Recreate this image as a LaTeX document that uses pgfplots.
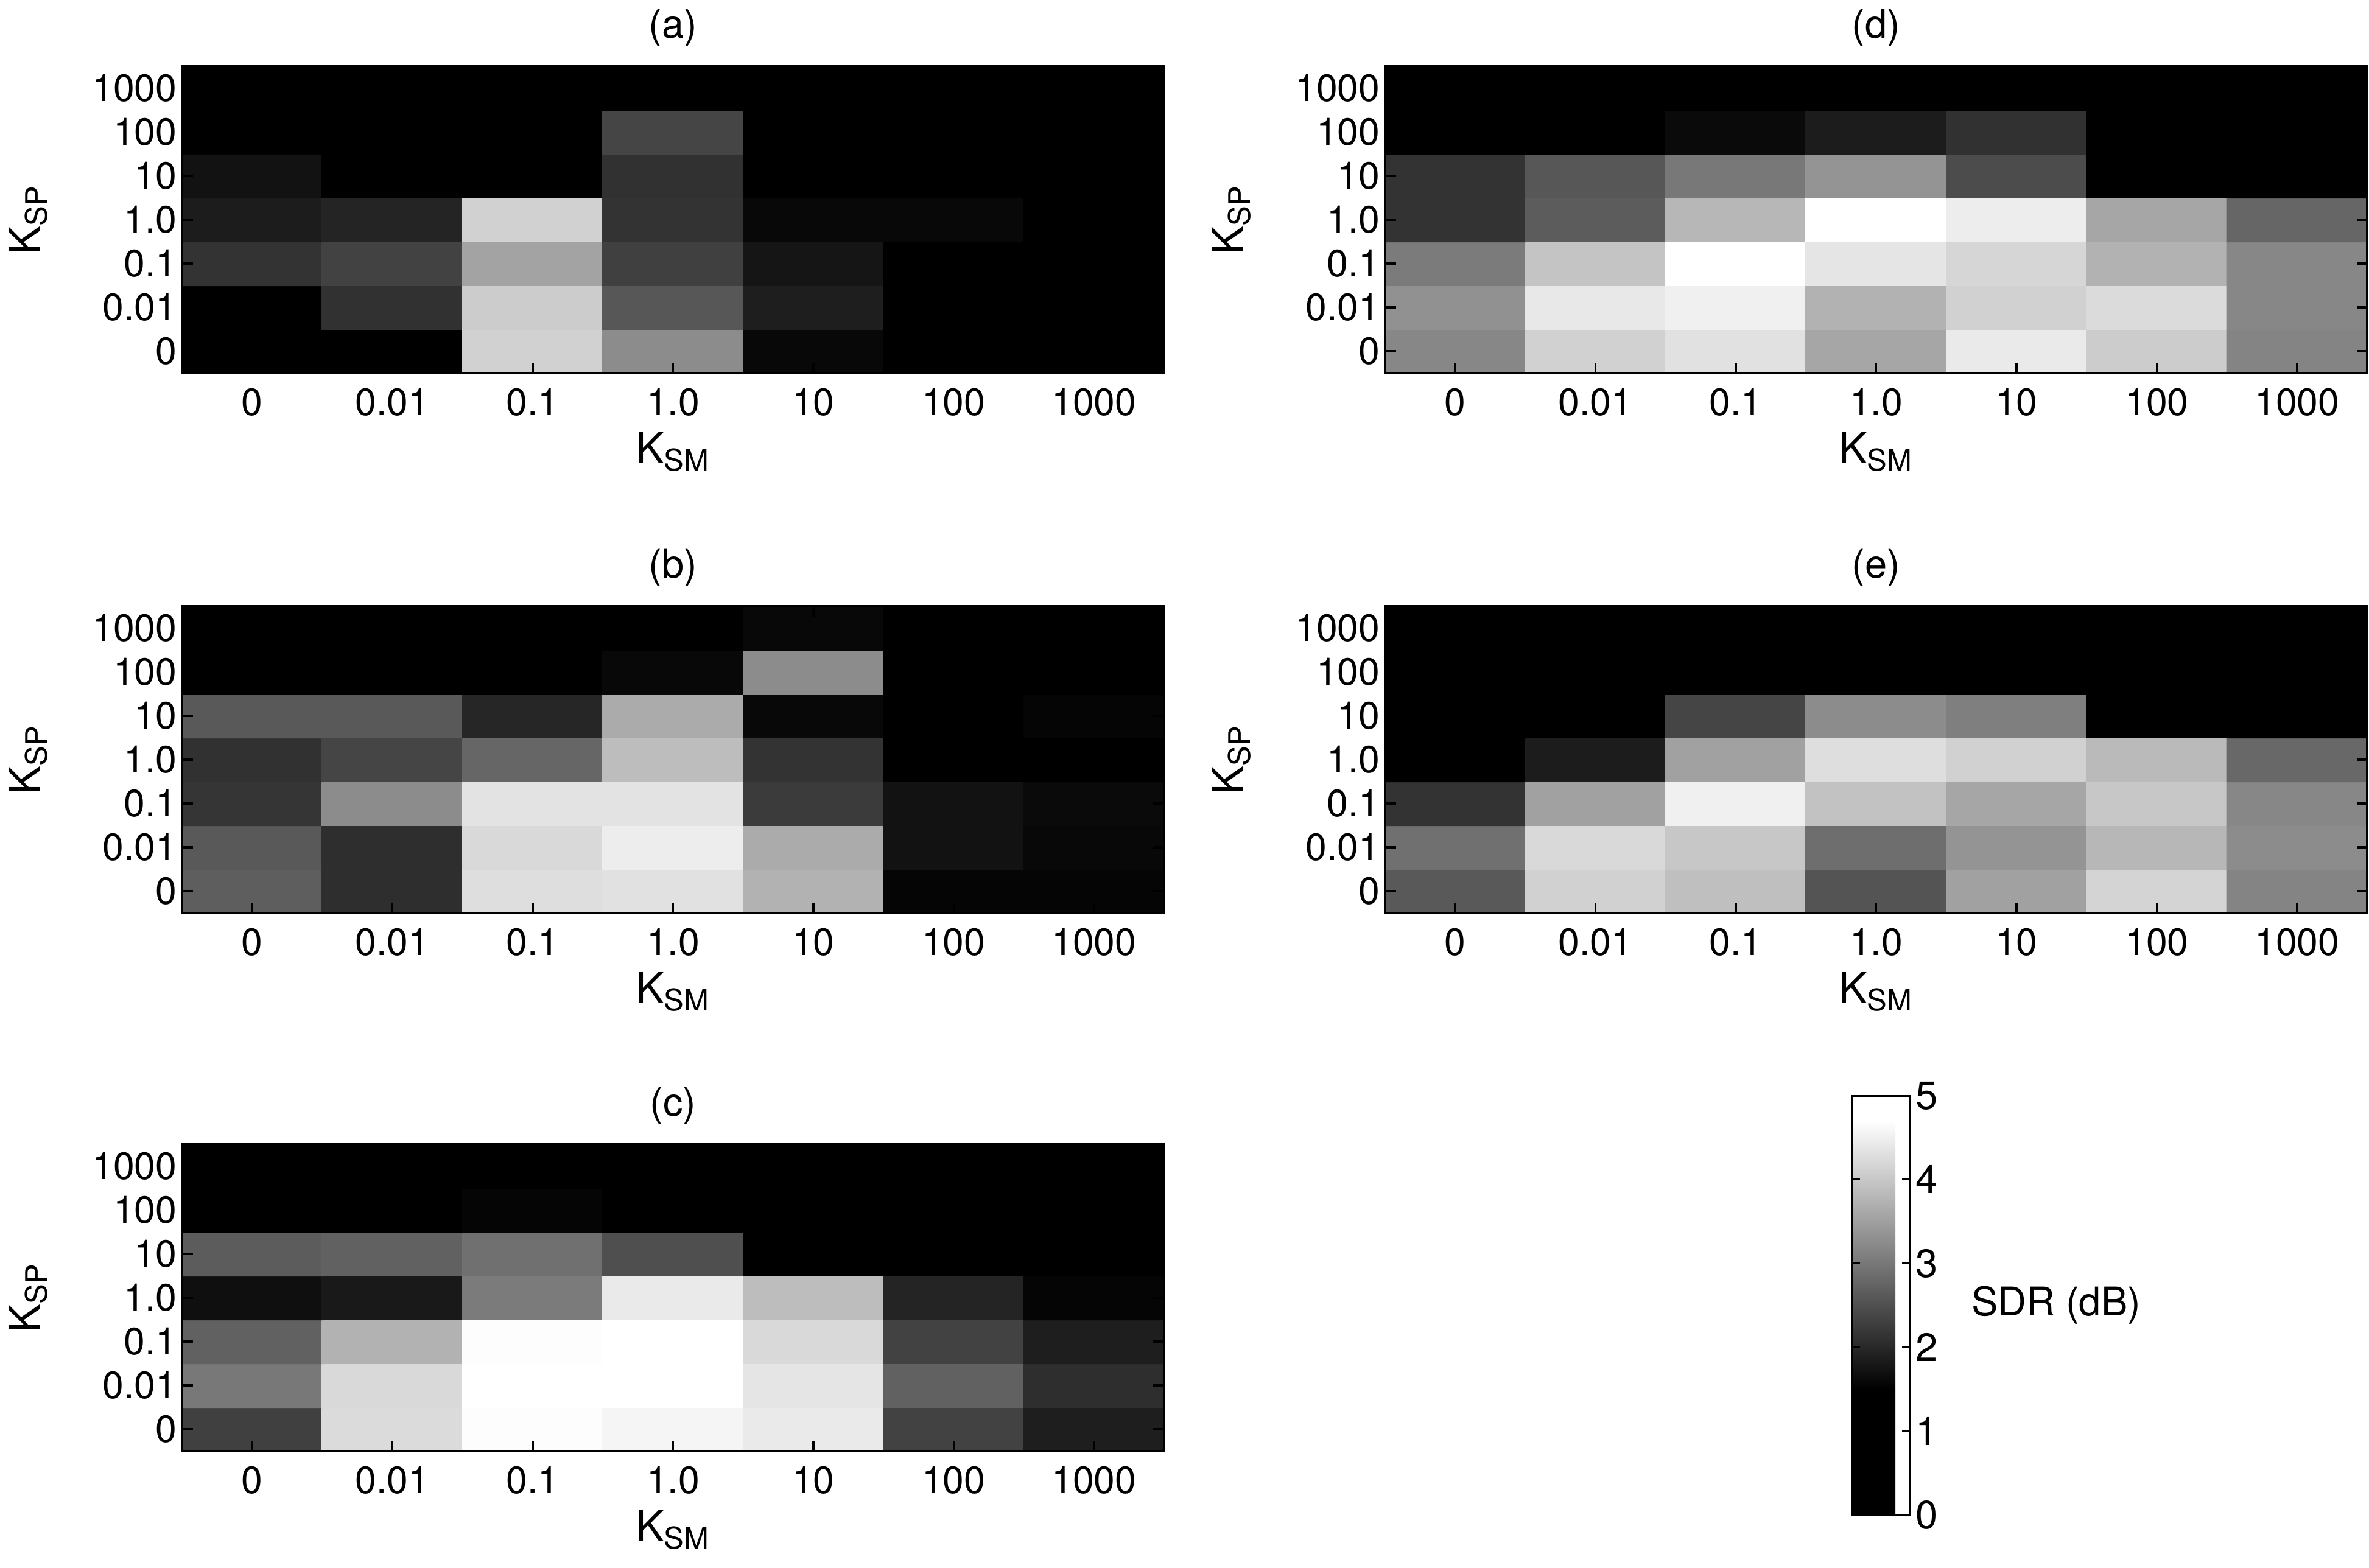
\documentclass[border=0pt]{standalone}
\usepackage{fontspec}
\setmainfont{TeX Gyre Heros}
\usepackage{pgfplots}
\pgfplotsset{compat=1.18}
\begin{document}
\begin{tikzpicture}
\useasboundingbox (0,0) rectangle (778.2pt,-515pt);
\pgfplotsset{
  colormap={sdr}{gray(0cm)=(0); gray(1.5cm)=(0); gray(4.7cm)=(1); gray(5cm)=(1)},
  /pgf/number format/assume math mode=true,
  hm/.style={
    scale only axis, width=322.6pt, height=100.8pt,
    anchor=north west, axis on top,
    xmin=-0.5, xmax=6.5, ymin=-0.5, ymax=6.5,
    enlargelimits=false,
    xtick={0,...,6}, ytick={0,...,6},
    xticklabels={0,0.01,0.1,1.0,10,100,1000},
    yticklabels={0,0.01,0.1,1.0,10,100,1000},
    tick align=inside, major tick length=3.5pt,
    tick style={line width=0.7pt, black},
    axis line style={line width=0.7pt},
    point meta min=0, point meta max=5,
    colormap name=sdr,
    tick label style={font=\fontsize{12.5}{14}\selectfont},
    xticklabel style={yshift=-1.4pt},
    yticklabel style={xshift=1.8pt},
    xlabel={K\textsubscript{SM}},
    ylabel={K\textsubscript{SP}},
    every axis x label/.style={at={(axis description cs:0.5,-0.159)}, anchor=north, font=\fontsize{14}{16}\selectfont},
    every axis y label/.style={at={(axis description cs:-0.126,0.5)}, rotate=90, anchor=south, font=\fontsize{14}{16}\selectfont},
    every axis title/.style={at={(0.5,1)}, anchor=south, yshift=3pt, font=\fontsize{13}{15}\selectfont},
  },
  cells/.style={matrix plot*, mesh/cols=7, point meta=explicit},
}

% (a)
\begin{axis}[hm, at={(59.8pt,-21.8pt)}, title={(a)}]
\addplot[cells] coordinates {
(0,0)[1.0] (1,0)[1.0] (2,0)[4.12] (3,0)[3.26] (4,0)[1.60] (5,0)[1.0] (6,0)[1.0]
(0,1)[1.0] (1,1)[2.11] (2,1)[4.06] (3,1)[2.59] (4,1)[1.88] (5,1)[1.0] (6,1)[1.0]
(0,2)[2.14] (1,2)[2.33] (2,2)[3.55] (3,2)[2.30] (4,2)[1.76] (5,2)[1.0] (6,2)[1.0]
(0,3)[1.85] (1,3)[1.95] (2,3)[4.12] (3,3)[2.14] (4,3)[1.60] (5,3)[1.60] (6,3)[1.0]
(0,4)[1.72] (1,4)[1.0] (2,4)[1.0] (3,4)[2.11] (4,4)[1.0] (5,4)[1.0] (6,4)[1.0]
(0,5)[1.0] (1,5)[1.0] (2,5)[1.0] (3,5)[2.36] (4,5)[1.0] (5,5)[1.0] (6,5)[1.0]
(0,6)[1.0] (1,6)[1.0] (2,6)[1.0] (3,6)[1.0] (4,6)[1.0] (5,6)[1.0] (6,6)[1.0]
};
\end{axis}

% (b)
\begin{axis}[hm, at={(59.8pt,-199.2pt)}, title={(b)}]
\addplot[cells] coordinates {
(0,0)[2.68] (1,0)[2.08] (2,0)[4.28] (3,0)[4.32] (4,0)[3.74] (5,0)[1.56] (6,0)[1.56]
(0,1)[2.62] (1,1)[2.08] (2,1)[4.22] (3,1)[4.48] (4,1)[3.64] (5,1)[1.72] (6,1)[1.60]
(0,2)[2.17] (1,2)[3.26] (2,2)[4.35] (3,2)[4.35] (4,2)[2.24] (5,2)[1.72] (6,2)[1.63]
(0,3)[2.11] (1,3)[2.36] (2,3)[2.78] (3,3)[3.87] (4,3)[2.14] (5,3)[1.0] (6,3)[1.0]
(0,4)[2.62] (1,4)[2.62] (2,4)[1.98] (3,4)[3.64] (4,4)[1.60] (5,4)[1.0] (6,4)[1.56]
(0,5)[1.0] (1,5)[1.0] (2,5)[1.0] (3,5)[1.60] (4,5)[3.26] (5,5)[1.0] (6,5)[1.0]
(0,6)[1.0] (1,6)[1.0] (2,6)[1.0] (3,6)[1.0] (4,6)[1.60] (5,6)[1.0] (6,6)[1.0]
};
\end{axis}

% (c)
\begin{axis}[hm, at={(59.8pt,-376pt)}, title={(c)}]
\addplot[cells] coordinates {
(0,0)[2.30] (1,0)[4.25] (2,0)[4.67] (3,0)[4.57] (4,0)[4.44] (5,0)[2.33] (6,0)[1.88]
(0,1)[3.00] (1,1)[4.22] (2,1)[4.75] (3,1)[4.75] (4,1)[4.38] (5,1)[2.72] (6,1)[2.08]
(0,2)[2.72] (1,2)[3.74] (2,2)[4.67] (3,2)[4.75] (4,2)[4.22] (5,2)[2.33] (6,2)[1.88]
(0,3)[1.69] (1,3)[1.82] (2,3)[3.04] (3,3)[4.44] (4,3)[3.87] (5,3)[1.95] (6,3)[1.56]
(0,4)[2.65] (1,4)[2.72] (2,4)[2.91] (3,4)[2.49] (4,4)[1.0] (5,4)[1.0] (6,4)[1.0]
(0,5)[1.0] (1,5)[1.0] (2,5)[1.56] (3,5)[1.0] (4,5)[1.0] (5,5)[1.0] (6,5)[1.0]
(0,6)[1.0] (1,6)[1.0] (2,6)[1.0] (3,6)[1.0] (4,6)[1.0] (5,6)[1.0] (6,6)[1.0]
};
\end{axis}

% (d)
\begin{axis}[hm, at={(455pt,-21.8pt)}, title={(d)}]
\addplot[cells] coordinates {
(0,0)[3.20] (1,0)[4.12] (2,0)[4.32] (3,0)[3.58] (4,0)[4.44] (5,0)[4.06] (6,0)[3.16]
(0,1)[3.32] (1,1)[4.41] (2,1)[4.51] (3,1)[3.74] (4,1)[4.12] (5,1)[4.25] (6,1)[3.20]
(0,2)[3.04] (1,2)[3.96] (2,2)[4.75] (3,2)[4.38] (4,2)[4.19] (5,2)[3.74] (6,2)[3.20]
(0,3)[2.14] (1,3)[2.65] (2,3)[3.80] (3,3)[4.75] (4,3)[4.48] (5,3)[3.58] (6,3)[2.78]
(0,4)[2.14] (1,4)[2.59] (2,4)[3.00] (3,4)[3.36] (4,4)[2.46] (5,4)[1.0] (6,4)[1.0]
(0,5)[1.0] (1,5)[1.0] (2,5)[1.63] (3,5)[1.85] (4,5)[2.11] (5,5)[1.0] (6,5)[1.0]
(0,6)[1.0] (1,6)[1.0] (2,6)[1.0] (3,6)[1.0] (4,6)[1.0] (5,6)[1.0] (6,6)[1.0]
};
\end{axis}

% (e)
\begin{axis}[hm, at={(455pt,-199.2pt)}, title={(e)}]
\addplot[cells] coordinates {
(0,0)[2.62] (1,0)[4.12] (2,0)[3.90] (3,0)[2.56] (4,0)[3.52] (5,0)[4.16] (6,0)[3.16]
(0,1)[2.91] (1,1)[4.22] (2,1)[4.00] (3,1)[2.88] (4,1)[3.36] (5,1)[3.80] (6,1)[3.26]
(0,2)[2.14] (1,2)[3.52] (2,2)[4.51] (3,2)[3.93] (4,2)[3.58] (5,2)[4.00] (6,2)[3.20]
(0,3)[1.0] (1,3)[1.85] (2,3)[3.52] (3,3)[4.28] (4,3)[4.12] (5,3)[3.84] (6,3)[2.81]
(0,4)[1.0] (1,4)[1.0] (2,4)[2.36] (3,4)[3.26] (4,4)[3.10] (5,4)[1.0] (6,4)[1.0]
(0,5)[1.0] (1,5)[1.0] (2,5)[1.0] (3,5)[1.0] (4,5)[1.0] (5,5)[1.0] (6,5)[1.0]
(0,6)[1.0] (1,6)[1.0] (2,6)[1.0] (3,6)[1.0] (4,6)[1.0] (5,6)[1.0] (6,6)[1.0]
};
\end{axis}

% colorbar
\begin{axis}[
  at={(599.86pt,-360pt)}, anchor=north west,
  scale only axis, width=18.8pt, height=137.8pt,
  xmin=0, xmax=1, ymin=0, ymax=1, hide axis, clip=false,
  point meta min=0, point meta max=5, colormap name=sdr,
  colorbar,
  colorbar style={
    at={(parent axis.north west)}, anchor=north west,
    scale only axis, width=18.8pt, height=137.8pt,
    ytick={0,1,2,3,4,5},
    yticklabel pos=right, ytick pos=both,
    tick align=inside, major tick length=2.5pt,
    tick style={line width=0.6pt, black},
    axis line style={line width=0.6pt},
    yticklabel style={font=\fontsize{13}{15}\selectfont, xshift=-1.5pt},
  },
]
\node[anchor=west, inner sep=0pt, font=\fontsize{13}{15}\selectfont] at (rel axis cs:1,0.5) [xshift=28.74pt] {SDR (dB)};
\end{axis}
\end{tikzpicture}
\end{document}
